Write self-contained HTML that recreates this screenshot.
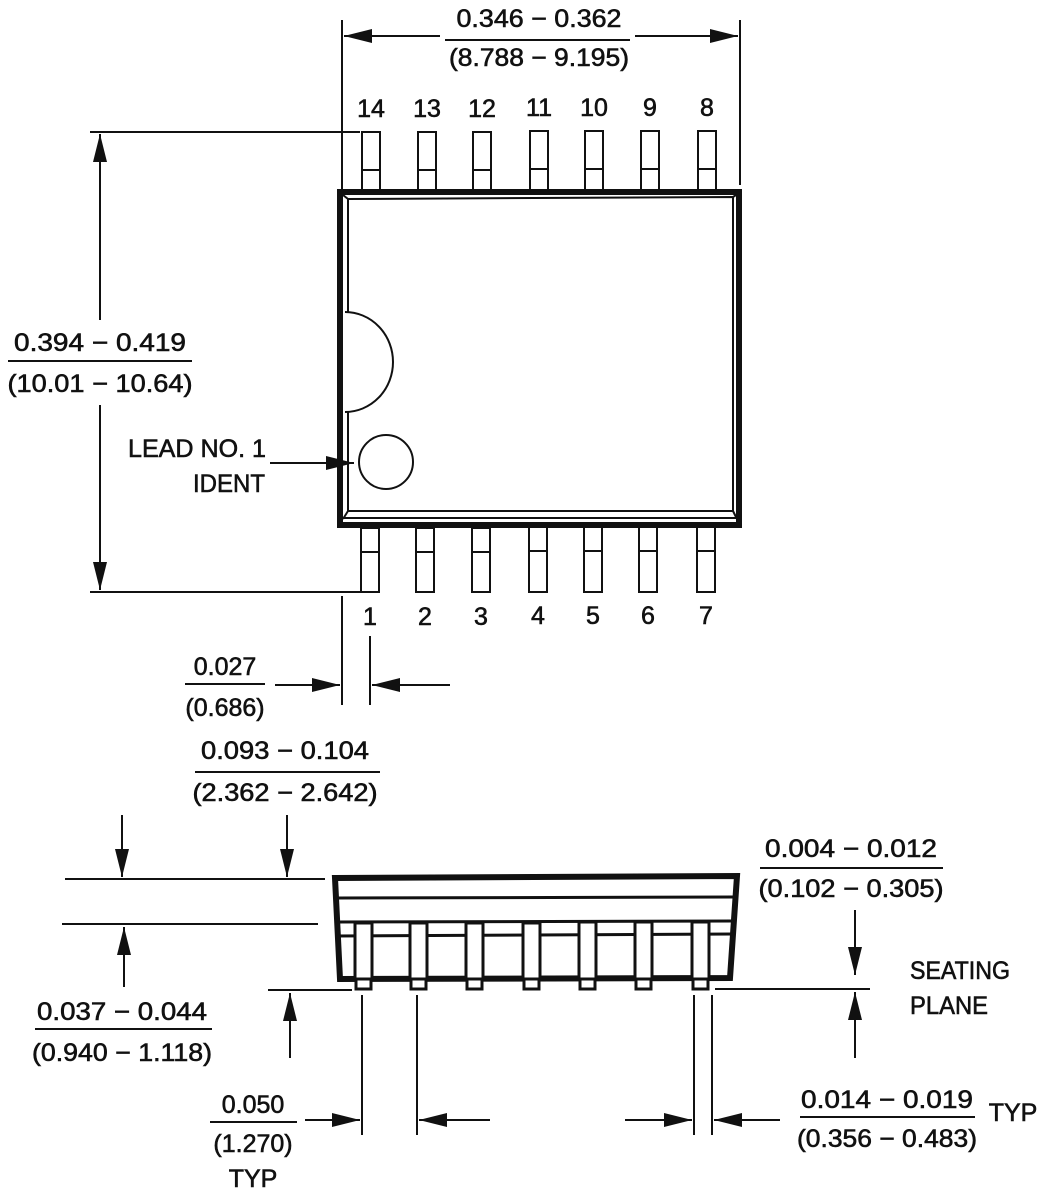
<!DOCTYPE html>
<html><head><meta charset="utf-8"><style>
html,body{margin:0;padding:0;background:#fff}
svg{display:block}
text{font-family:"Liberation Sans",sans-serif;font-size:25px;fill:#111;stroke:#111;stroke-width:0.6}
</style></head><body>
<svg width="1039" height="1200" viewBox="0 0 1039 1200" xmlns="http://www.w3.org/2000/svg">
<defs>
<marker id="b" markerWidth="28" markerHeight="14" refX="28" refY="7" orient="auto" markerUnits="userSpaceOnUse" viewBox="0 0 28 14">
<path d="M0,0 L28,7 L0,14 z" fill="#111"/></marker>
</defs>
<g stroke="#111" fill="none" stroke-width="2">
<line x1="342" y1="20" x2="342" y2="190"/>
<line x1="740" y1="20" x2="740" y2="185"/>
<line x1="440" y1="36" x2="344" y2="36" marker-end="url(#b)"/>
<line x1="635" y1="36" x2="738" y2="36" marker-end="url(#b)"/>
<line x1="445" y1="40" x2="630" y2="40"/>
<line x1="90" y1="132" x2="360" y2="132"/>
<line x1="90" y1="592" x2="360" y2="592"/>
<line x1="100" y1="320" x2="100" y2="134" marker-end="url(#b)"/>
<line x1="100" y1="405" x2="100" y2="590" marker-end="url(#b)"/>
<line x1="8" y1="361" x2="192" y2="361"/>
<g>
<rect x="362" y="132" width="18" height="58"/><line x1="362" y1="170" x2="380" y2="170"/>
<rect x="418" y="132" width="18" height="58"/><line x1="418" y1="170" x2="436" y2="170"/>
<rect x="473" y="132" width="18" height="58"/><line x1="473" y1="170" x2="491" y2="170"/>
<rect x="530" y="131" width="18" height="59"/><line x1="530" y1="169" x2="548" y2="169"/>
<rect x="585" y="131" width="18" height="59"/><line x1="585" y1="169" x2="603" y2="169"/>
<rect x="641" y="131" width="18" height="59"/><line x1="641" y1="169" x2="659" y2="169"/>
<rect x="698" y="131" width="18" height="59"/><line x1="698" y1="169" x2="716" y2="169"/>
</g>
<g>
<rect x="361" y="528" width="18" height="64"/><line x1="361" y1="552" x2="379" y2="552"/>
<rect x="416" y="528" width="18" height="64"/><line x1="416" y1="552" x2="434" y2="552"/>
<rect x="472" y="528" width="18" height="64"/><line x1="472" y1="552" x2="490" y2="552"/>
<rect x="529" y="527" width="18" height="65"/><line x1="529" y1="551" x2="547" y2="551"/>
<rect x="584" y="527" width="18" height="65"/><line x1="584" y1="551" x2="602" y2="551"/>
<rect x="639" y="527" width="18" height="65"/><line x1="639" y1="551" x2="657" y2="551"/>
<rect x="697" y="527" width="18" height="65"/><line x1="697" y1="551" x2="715" y2="551"/>
</g>
<rect x="340" y="192" width="399" height="333" stroke-width="6" fill="#fff"/>
<path d="M348,199 L733,197 L733,511 L348,511 Z" stroke-width="2"/>
<line x1="343" y1="195" x2="348" y2="199"/>
<line x1="736" y1="195" x2="733" y2="197"/>
<line x1="348" y1="511" x2="343" y2="519"/>
<line x1="733" y1="511" x2="737" y2="519"/>
<line x1="343" y1="518" x2="737" y2="518"/>
<path d="M345,312 A48,50 0 0 1 345,412" stroke-width="2" fill="#fff"/>
<circle cx="386" cy="462" r="27"/>
<line x1="270" y1="463" x2="354" y2="463" marker-end="url(#b)"/>
<line x1="342" y1="596" x2="342" y2="705"/>
<line x1="370" y1="636" x2="370" y2="705"/>
<line x1="275" y1="685" x2="340" y2="685" marker-end="url(#b)"/>
<line x1="450" y1="685" x2="372" y2="685" marker-end="url(#b)"/>
<line x1="185" y1="684" x2="265" y2="684"/>
<line x1="195" y1="772" x2="380" y2="772"/>
<line x1="65" y1="879" x2="325" y2="879"/>
<line x1="62" y1="924" x2="318" y2="924"/>
<line x1="122" y1="815" x2="122" y2="877" marker-end="url(#b)"/>
<line x1="287" y1="815" x2="287" y2="877" marker-end="url(#b)"/>
<line x1="124" y1="987" x2="124" y2="927" marker-end="url(#b)"/>
<line x1="35" y1="1029" x2="212" y2="1029"/>
<line x1="268" y1="990" x2="352" y2="990"/>
<line x1="290" y1="1058" x2="290" y2="993" marker-end="url(#b)"/>
<path d="M335,878 L737,876 L730,978 L340,979 Z" stroke-width="6" fill="#fff"/>
<line x1="338" y1="898" x2="735" y2="897" stroke-width="3"/>
<line x1="336" y1="922" x2="734" y2="921" stroke-width="3"/>
<line x1="336" y1="936" x2="734" y2="934" stroke-width="3"/>
<g stroke-width="3" fill="#fff">
<rect x="355" y="923" width="17" height="56"/><rect x="356" y="979" width="15" height="10"/>
<rect x="410" y="923" width="17" height="56"/><rect x="411" y="979" width="15" height="10"/>
<rect x="466" y="923" width="17" height="56"/><rect x="467" y="979" width="15" height="10"/>
<rect x="523" y="923" width="17" height="56"/><rect x="524" y="979" width="15" height="10"/>
<rect x="579" y="922" width="17" height="57"/><rect x="580" y="979" width="15" height="10"/>
<rect x="635" y="922" width="17" height="57"/><rect x="636" y="979" width="15" height="10"/>
<rect x="692" y="922" width="17" height="57"/><rect x="693" y="979" width="15" height="10"/>
</g>
<line x1="715" y1="989" x2="870" y2="989"/>
<line x1="760" y1="868" x2="943" y2="868"/>
<line x1="855" y1="910" x2="855" y2="975" marker-end="url(#b)"/>
<line x1="855" y1="1058" x2="855" y2="992" marker-end="url(#b)"/>
<line x1="362" y1="995" x2="362" y2="1135"/>
<line x1="417" y1="995" x2="417" y2="1135"/>
<line x1="305" y1="1120" x2="360" y2="1120" marker-end="url(#b)"/>
<line x1="490" y1="1120" x2="419" y2="1120" marker-end="url(#b)"/>
<line x1="210" y1="1122" x2="297" y2="1122"/>
<line x1="694" y1="995" x2="694" y2="1135"/>
<line x1="712" y1="995" x2="712" y2="1135"/>
<line x1="625" y1="1120" x2="692" y2="1120" marker-end="url(#b)"/>
<line x1="780" y1="1120" x2="714" y2="1120" marker-end="url(#b)"/>
<line x1="800" y1="1117" x2="975" y2="1117"/>
</g>
<g text-anchor="middle">
<text x="539" y="27" textLength="165" lengthAdjust="spacingAndGlyphs">0.346 − 0.362</text>
<text x="539" y="66" textLength="180" lengthAdjust="spacingAndGlyphs">(8.788 − 9.195)</text>
<text x="371" y="117">14</text><text x="427" y="117">13</text><text x="482" y="117">12</text><text x="539" y="116">11</text><text x="594" y="116">10</text><text x="650" y="116">9</text><text x="707" y="116">8</text>
<text x="370" y="625">1</text><text x="425" y="625">2</text><text x="481" y="625">3</text><text x="538" y="624">4</text><text x="593" y="624">5</text><text x="648" y="624">6</text><text x="706" y="624">7</text>
<text x="100" y="351" textLength="172" lengthAdjust="spacingAndGlyphs">0.394 − 0.419</text>
<text x="100" y="392" textLength="185" lengthAdjust="spacingAndGlyphs">(10.01 − 10.64)</text>
<text x="225" y="675">0.027</text>
<text x="225" y="716">(0.686)</text>
<text x="285" y="759" textLength="168" lengthAdjust="spacingAndGlyphs">0.093 − 0.104</text>
<text x="285" y="801" textLength="185" lengthAdjust="spacingAndGlyphs">(2.362 − 2.642)</text>
<text x="122" y="1020" textLength="170" lengthAdjust="spacingAndGlyphs">0.037 − 0.044</text>
<text x="122" y="1061" textLength="180" lengthAdjust="spacingAndGlyphs">(0.940 − 1.118)</text>
<text x="253" y="1113">0.050</text>
<text x="253" y="1152">(1.270)</text>
<text x="253" y="1187">TYP</text>
<text x="851" y="857" textLength="172" lengthAdjust="spacingAndGlyphs">0.004 − 0.012</text>
<text x="851" y="897" textLength="185" lengthAdjust="spacingAndGlyphs">(0.102 − 0.305)</text>
<text x="887" y="1108" textLength="172" lengthAdjust="spacingAndGlyphs">0.014 − 0.019</text>
<text x="887" y="1147" textLength="180" lengthAdjust="spacingAndGlyphs">(0.356 − 0.483)</text>
<text x="1013" y="1121">TYP</text>
</g>
<text x="128" y="457" textLength="138" lengthAdjust="spacingAndGlyphs">LEAD NO. 1</text>
<text x="193" y="492" textLength="72" lengthAdjust="spacingAndGlyphs">IDENT</text>
<text x="910" y="979" textLength="100" lengthAdjust="spacingAndGlyphs">SEATING</text>
<text x="910" y="1014" textLength="78" lengthAdjust="spacingAndGlyphs">PLANE</text>
</svg>
</body></html>
